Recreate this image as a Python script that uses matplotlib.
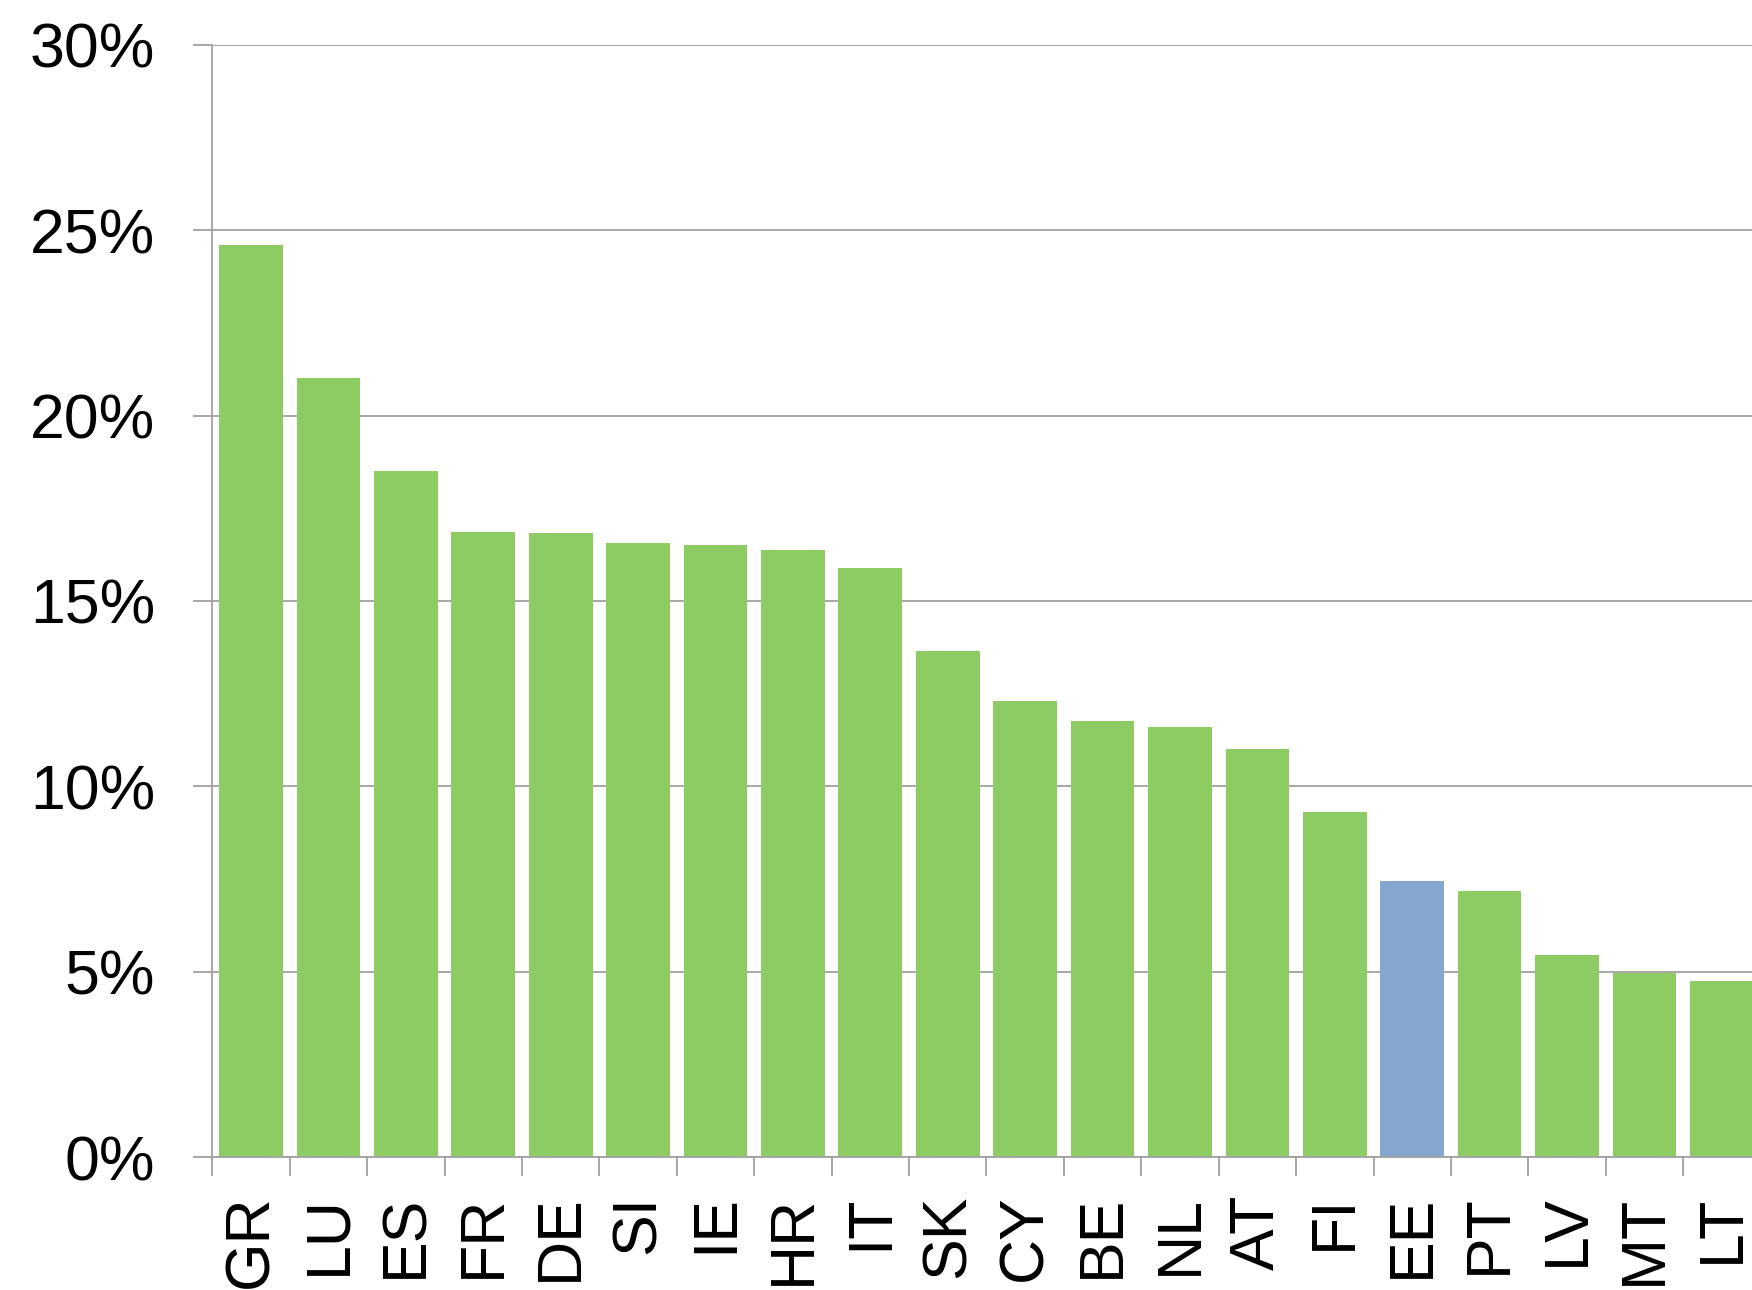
import matplotlib.pyplot as plt
from matplotlib.ticker import FuncFormatter, FixedLocator

countries = ["GR", "LU", "ES", "FR", "DE", "SI", "IE", "HR", "IT", "SK",
             "CY", "BE", "NL", "AT", "FI", "EE", "PT", "LV", "MT", "LT"]
values = [24.6, 21.0, 18.5, 16.85, 16.82, 16.55, 16.5, 16.37, 15.9, 13.65,
          12.3, 11.75, 11.6, 11.0, 9.3, 7.45, 7.17, 5.45, 4.95, 4.75]
highlight = "EE"

green = "#8dcc63"
blue = "#85a6ce"
grey = "#a0a0a0"

plt.rcParams["font.family"] = ["Liberation Sans", "DejaVu Sans"]

fig = plt.figure(figsize=(17.52, 12.9), dpi=100)
ax = fig.add_axes([0.1212, 0.1031, 0.8837, 0.8622])

colors = [blue if c == highlight else green for c in countries]
x = list(range(len(countries)))
ax.bar(x, values, width=0.823, color=colors, zorder=3)

ax.set_xlim(-0.5, len(countries) - 0.5)
ax.set_ylim(0, 30)
ax.set_yticks([0, 5, 10, 15, 20, 25, 30])
ax.yaxis.set_major_formatter(FuncFormatter(lambda v, p: f"{v:.0f}%"))
ax.grid(axis="y", color=grey, linewidth=1.3, zorder=0)

# tick marks between categories, labels at centres
ax.xaxis.set_major_locator(FixedLocator([i - 0.5 for i in range(len(countries) + 1)]))
ax.xaxis.set_major_formatter(FuncFormatter(lambda v, p: ""))
ax.set_xticks(x, minor=True)
ax.set_xticklabels(countries, minor=True, rotation=90, va="top", ha="center")

ax.tick_params(axis="x", which="major", length=14, width=1.3, color=grey)
ax.tick_params(axis="x", which="minor", length=0, pad=27, labelsize=45)
ax.tick_params(axis="y", length=14, width=1.3, color=grey, pad=27, labelsize=45)

for side in ["top", "right"]:
    ax.spines[side].set_visible(False)
for side in ["left", "bottom"]:
    ax.spines[side].set_color(grey)
    ax.spines[side].set_linewidth(1.3)
    ax.spines[side].set_zorder(4)

fig.savefig("out.png", dpi=100)
